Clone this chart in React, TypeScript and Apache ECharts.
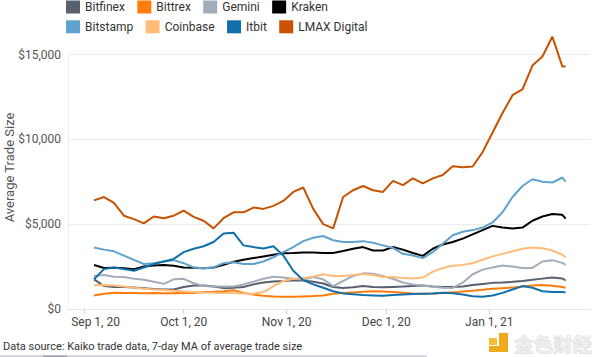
import React, { useEffect, useRef } from 'react';
import * as echarts from 'echarts';

const dates = [
  '2020-09-04', '2020-09-07', '2020-09-10', '2020-09-13', '2020-09-16', '2020-09-19', '2020-09-22', '2020-09-25', '2020-09-28', '2020-10-01',
  '2020-10-04', '2020-10-07', '2020-10-10', '2020-10-13', '2020-10-16', '2020-10-19', '2020-10-22', '2020-10-25', '2020-10-28', '2020-10-31',
  '2020-11-03', '2020-11-06', '2020-11-09', '2020-11-12', '2020-11-15', '2020-11-18', '2020-11-21', '2020-11-24', '2020-11-27', '2020-11-30',
  '2020-12-03', '2020-12-06', '2020-12-09', '2020-12-12', '2020-12-15', '2020-12-18', '2020-12-21', '2020-12-24', '2020-12-27', '2020-12-30',
  '2021-01-02', '2021-01-05', '2021-01-08', '2021-01-11', '2021-01-14', '2021-01-17', '2021-01-20', '2021-01-23', '2021-01-24',
];

const bitfinex = [1750, 1350, 1300, 1300, 1270, 1230, 1180, 1150, 1150, 1300, 1380, 1380, 1320, 1230, 1250, 1300, 1450, 1560, 1620, 1650, 1700, 1680, 1600, 1500, 1300, 1240, 1280, 1350, 1300, 1280, 1300, 1320, 1350, 1380, 1330, 1300, 1300, 1320, 1420, 1480, 1540, 1560, 1600, 1650, 1720, 1790, 1850, 1800, 1680];
const bittrex = [800, 900, 960, 950, 940, 930, 940, 930, 930, 940, 950, 1000, 1020, 1050, 1100, 950, 850, 780, 730, 720, 720, 740, 760, 800, 900, 940, 980, 1020, 1050, 1030, 1000, 960, 920, 900, 920, 950, 980, 1030, 1080, 1130, 1200, 1230, 1260, 1320, 1380, 1410, 1370, 1300, 1250];
const gemini = [1950, 2000, 1900, 1880, 1780, 1720, 1600, 1480, 1750, 1780, 1520, 1360, 1330, 1320, 1330, 1450, 1610, 1780, 1900, 1850, 1790, 1720, 1880, 1750, 1350, 1650, 1950, 2100, 2080, 1950, 1780, 1560, 1450, 1380, 1310, 1250, 1240, 1550, 2050, 2320, 2450, 2560, 2500, 2420, 2420, 2800, 2880, 2720, 2600];
const kraken = [2590, 2420, 2430, 2400, 2350, 2500, 2560, 2590, 2550, 2450, 2430, 2400, 2450, 2600, 2780, 2900, 3000, 3100, 3200, 3280, 3300, 3330, 3330, 3300, 3300, 3420, 3550, 3650, 3450, 3450, 3650, 3500, 3300, 3130, 3550, 3800, 3950, 4150, 4400, 4650, 4900, 4800, 4750, 4800, 5200, 5450, 5600, 5550, 5330];
const bitstamp = [3630, 3500, 3400, 3150, 2900, 2650, 2700, 2800, 2880, 2700, 2450, 2400, 2450, 2700, 2750, 2650, 2650, 2800, 3050, 3350, 3650, 4000, 4200, 4300, 4050, 3950, 3950, 4000, 3900, 3750, 3600, 3250, 3150, 3000, 3350, 3850, 4350, 4550, 4650, 4800, 5100, 5700, 6600, 7250, 7650, 7500, 7450, 7750, 7500];
const coinbase = [1400, 1420, 1380, 1320, 1260, 1200, 1150, 1120, 1080, 1030, 1000, 970, 960, 950, 930, 920, 900, 1000, 1350, 1650, 1780, 1820, 1920, 2050, 1950, 1950, 2000, 2060, 2000, 1900, 1880, 1820, 1800, 1850, 2200, 2420, 2550, 2600, 2700, 2900, 3100, 3250, 3400, 3550, 3630, 3580, 3450, 3200, 3050];
const itbit = [1750, 2350, 2450, 2350, 2250, 2450, 2650, 2800, 2950, 3350, 3550, 3700, 3950, 4450, 4500, 3750, 3650, 3570, 3700, 3150, 2250, 1700, 1450, 1250, 1050, 920, 870, 820, 800, 780, 820, 850, 880, 900, 920, 960, 930, 850, 750, 720, 800, 950, 1150, 1350, 1250, 1050, 1000, 1000, 980];
const lmax = [6400, 6600, 6250, 5500, 5300, 5050, 5450, 5350, 5500, 5800, 5430, 5200, 4750, 5350, 5700, 5700, 5980, 5900, 6080, 6370, 6900, 7160, 5900, 5000, 4750, 6600, 7000, 7250, 7000, 6900, 7550, 7300, 7700, 7400, 7700, 7900, 8420, 8350, 8400, 9250, 10400, 11550, 12600, 12950, 14350, 14880, 16050, 14300, 14300];

const seriesNames = ['Bitfinex', 'Bittrex', 'Gemini', 'Kraken', 'Bitstamp', 'Coinbase', 'Itbit', 'LMAX Digital'];
const seriesValues = [bitfinex, bittrex, gemini, kraken, bitstamp, coinbase, itbit, lmax];
const seriesColors = ['#57606c', '#fc7d0b', '#a3acb9', '#000000', '#5fa2ce', '#ffbc79', '#1170aa', '#c85200'];

const tickDates = ['2020-09-01', '2020-10-01', '2020-11-01', '2020-12-01', '2021-01-01'];
const tickLabels = ['Sep 1, 20', 'Oct 1, 20', 'Nov 1, 20', 'Dec 1, 20', 'Jan 1, 21'];
const yTicks = [0, 5000, 10000, 15000];

function ts(s: string, hour = 0): number {
  const [y, m, d] = s.split('-').map(Number);
  return new Date(y, m - 1, d, hour).getTime();
}

const FONT = 'Roboto';

export default function App() {
  const ref = useRef<HTMLDivElement>(null);
  useEffect(() => {
    if (!ref.current) return;
    const chart = echarts.init(ref.current, null, { renderer: 'svg' });
    const tickTs = tickDates.map((d) => ts(d));
    const legendCommon = {
      orient: 'horizontal',
      left: 66,
      padding: 0,
      itemWidth: 14,
      itemHeight: 13,
      itemGap: 12.4,
      icon: 'rect',
      selectedMode: false,
      textStyle: { fontSize: 12, color: '#333', width: 95, fontFamily: FONT },
    };
    chart.setOption({
      animation: false,
      textStyle: { fontFamily: FONT },
      grid: { left: 68, right: 10, top: 54.5, bottom: 48 },
      legend: [
        { ...legendCommon, top: 0.5, data: seriesNames.slice(0, 4) },
        { ...legendCommon, top: 20.3, data: seriesNames.slice(4) },
      ],
      xAxis: {
        type: 'value',
        min: ts('2020-08-27', 4),
        max: ts('2021-01-31', 8),
        axisLine: { show: true, onZero: false, lineStyle: { color: '#e4e4e4', width: 1 } },
        axisTick: { show: true, length: 5, lineStyle: { color: '#d6d6d6' }, customValues: tickTs },
        splitLine: { show: false },
        axisLabel: {
          customValues: tickTs,
          fontSize: 12,
          color: '#444',
          fontFamily: FONT,
          margin: 7,
          formatter: (val: number) => {
            const i = tickTs.findIndex((t) => Math.abs(t - val) < 3600 * 1000);
            if (i < 0) return '';
            return i === 0 ? `{first|${tickLabels[i]}}` : tickLabels[i];
          },
          rich: {
            first: { padding: [0, 0, 0, 23], fontSize: 12, color: '#444', fontFamily: FONT },
          },
        },
      },
      yAxis: {
        type: 'value',
        min: yTicks[0],
        max: yTicks[yTicks.length - 1],
        interval: yTicks[1] - yTicks[0],
        axisLine: { show: true, lineStyle: { color: '#efefef' } },
        axisTick: { show: false },
        splitLine: { show: true, lineStyle: { color: '#ececec', width: 1 } },
        axisLabel: {
          fontSize: 12,
          color: '#555',
          fontFamily: FONT,
          margin: 7,
          formatter: (v: number) => '$' + v.toLocaleString('en-US'),
        },
      },
      series: seriesNames.map((name, k) => ({
        name,
        type: 'line',
        data: dates.map((d, i) => [ts(d), seriesValues[k][i]]),
        showSymbol: false,
        symbol: 'none',
        clip: false,
        color: seriesColors[k],
        itemStyle: { color: seriesColors[k] },
        lineStyle: { color: seriesColors[k], width: 2 },
        z: 2 + k,
      })),
      graphic: [
        {
          type: 'text',
          x: 9.5,
          y: 167.5,
          rotation: Math.PI / 2,
          style: {
            text: 'Average Trade Size',
            fontSize: 13,
            fontFamily: FONT,
            fill: '#555',
            align: 'center',
            verticalAlign: 'middle',
          },
        },
        {
          type: 'text',
          x: 3,
          y: 346.5,
          style: {
            text: 'Data source: Kaiko trade data, 7-day MA of average trade size',
            fontSize: 11,
            fontFamily: FONT,
            fill: '#333',
            align: 'left',
            verticalAlign: 'middle',
          },
        },
        { type: 'rect', shape: { x: 0, y: 355.3, width: 427, height: 1.7 }, style: { fill: '#d2d2dc' } },
        { type: 'rect', shape: { x: 43, y: 355.3, width: 24, height: 1.7 }, style: { fill: '#a9a9b6' } },
        { type: 'rect', shape: { x: 489, y: 338, width: 8, height: 7 }, style: { fill: '#f6bd3a' } },
        { type: 'rect', shape: { x: 499, y: 333, width: 9, height: 19 }, style: { fill: '#f0a81c' } },
        { type: 'rect', shape: { x: 489, y: 346, width: 19, height: 6 }, style: { fill: '#f0a81c' } },
        {
          type: 'text',
          x: 514,
          y: 343,
          style: {
            text: '金色财经',
            fontSize: 19.5,
            fontFamily: 'Noto Sans CJK SC',
            fontWeight: 'bold',
            fill: '#eeeeee',
            stroke: '#c8c8c8',
            lineWidth: 0.6,
            align: 'left',
            verticalAlign: 'middle',
          },
        },
      ],
    });
    return () => chart.dispose();
  }, []);
  return (
    <div
      ref={ref}
      style={{ position: 'fixed', left: 0, top: 0, width: 600, height: 357, background: '#fff' }}
    />
  );
}
